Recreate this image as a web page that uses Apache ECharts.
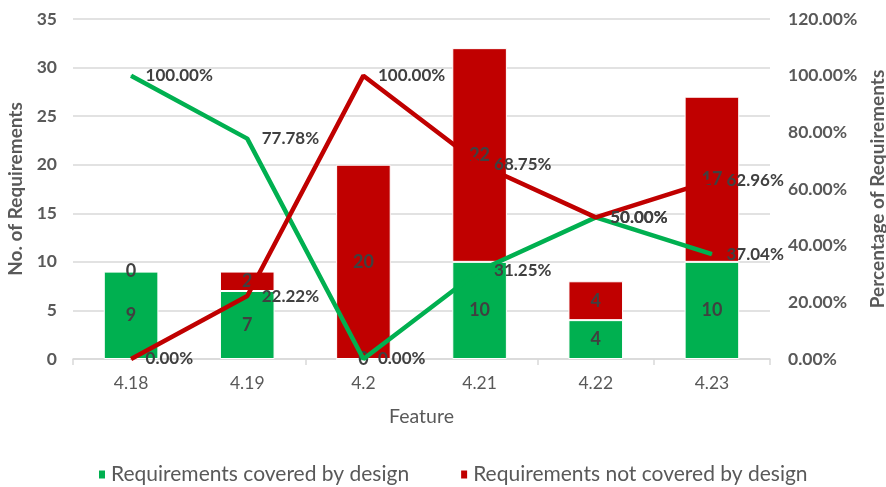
<!DOCTYPE html>
<html>
<head>
<meta charset="utf-8">
<script src="https://cdn.jsdelivr.net/npm/echarts@6/dist/echarts.min.js"></script>
<style>
html,body{margin:0;padding:0;background:#fff;}
#chart{width:886px;height:487px;}
</style>
</head>
<body>
<div id="chart"></div>
<script>
const categories = ['4.18', '4.19', '4.2', '4.21', '4.22', '4.23'];
const covered = [9, 7, 0, 10, 4, 10];
const notCovered = [0, 2, 20, 22, 4, 17];
const pctCovered = [100.00, 77.78, 0.00, 31.25, 50.00, 37.04];
const pctNotCovered = [0.00, 22.22, 100.00, 68.75, 50.00, 62.96];
const leftTicks = {min: 0, max: 35, interval: 5};
const rightTicks = {min: 0, max: 120, interval: 20};

const FONT = 'Lato, "Open Sans", sans-serif';
const GREEN = '#00B050';
const RED = '#C00000';
const LABEL = '#404040';
const AXIS_TXT = '#595959';

const chart = echarts.init(document.getElementById('chart'), null, {renderer: 'canvas'});

const barLabel = {
  show: true, position: 'inside', color: LABEL, fontFamily: FONT,
  fontSize: 18, fontWeight: 'bold'
};
const lineLabel = {
  show: true, position: 'right', distance: 14, color: LABEL, fontFamily: FONT,
  fontSize: 17, fontWeight: 'bold',
  formatter: p => p.value.toFixed(2) + '%'
};

chart.setOption({
  animation: false,
  textStyle: {fontFamily: FONT},
  grid: {left: 73, right: 116, top: 19, bottom: 128, containLabel: false, outerBoundsMode: 'none'},
  legend: {
    bottom: 2,
    padding: 0,
    left: 97,
    data: ['Requirements covered by design', 'Requirements not covered by design'],
    icon: 'rect',
    itemWidth: 8, itemHeight: 10,
    itemGap: 50,
    textStyle: {color: AXIS_TXT, fontSize: 21, fontFamily: FONT}
  },
  xAxis: {
    type: 'category',
    data: categories,
    name: 'Feature',
    nameLocation: 'middle',
    nameGap: 48,
    nameTextStyle: {color: AXIS_TXT, fontSize: 19.5, fontFamily: FONT},
    axisLine: {show: true, lineStyle: {color: '#d9d9d9', width: 1.5}},
    axisTick: {show: true, length: 6, lineStyle: {color: '#d9d9d9', width: 1.5}},
    axisLabel: {color: AXIS_TXT, fontSize: 17.5, margin: 15, fontFamily: FONT}
  },
  yAxis: [
    {
      type: 'value',
      min: leftTicks.min, max: leftTicks.max, interval: leftTicks.interval,
      name: 'No. of Requirements',
      nameLocation: 'middle',
      nameGap: 46,
      nameRotate: 90,
      nameTextStyle: {color: AXIS_TXT, fontSize: 19, fontWeight: 'bold', fontFamily: FONT},
      axisLine: {show: false},
      axisTick: {show: false},
      splitLine: {lineStyle: {color: '#d9d9d9', width: 1.5}},
      axisLabel: {color: AXIS_TXT, fontSize: 17.5, fontWeight: 'bold', margin: 16, fontFamily: FONT}
    },
    {
      type: 'value',
      min: rightTicks.min, max: rightTicks.max, interval: rightTicks.interval,
      name: 'Percentage of Requirements',
      nameLocation: 'middle',
      nameGap: 98,
      nameRotate: 90,
      nameTextStyle: {color: AXIS_TXT, fontSize: 19, fontWeight: 'bold', fontFamily: FONT},
      axisLine: {show: false},
      axisTick: {show: false},
      splitLine: {show: false},
      axisLabel: {
        color: AXIS_TXT, fontSize: 17.5, fontWeight: 'bold', margin: 18, fontFamily: FONT,
        formatter: v => v.toFixed(2) + '%'
      }
    }
  ],
  series: [
    {
      name: 'Requirements covered by design',
      type: 'bar', stack: 'req', yAxisIndex: 0,
      barWidth: '47%',
      data: covered,
      itemStyle: {color: GREEN, borderColor: '#fff', borderWidth: 1},
      label: barLabel,
      z: 2
    },
    {
      name: 'Requirements not covered by design',
      type: 'bar', stack: 'req', yAxisIndex: 0,
      barWidth: '47%',
      data: notCovered,
      itemStyle: {color: RED, borderColor: '#fff', borderWidth: 1},
      label: barLabel,
      z: 2
    },
    {
      name: '% covered',
      type: 'line', yAxisIndex: 1,
      data: pctCovered,
      showSymbol: true, symbol: 'circle', symbolSize: 1,
      lineStyle: {color: GREEN, width: 4.5},
      itemStyle: {color: GREEN},
      label: lineLabel,
      z: 5
    },
    {
      name: '% not covered',
      type: 'line', yAxisIndex: 1,
      data: pctNotCovered,
      showSymbol: true, symbol: 'circle', symbolSize: 1,
      lineStyle: {color: RED, width: 4.5},
      itemStyle: {color: RED},
      label: lineLabel,
      z: 5
    }
  ]
});
</script>
</body>
</html>
